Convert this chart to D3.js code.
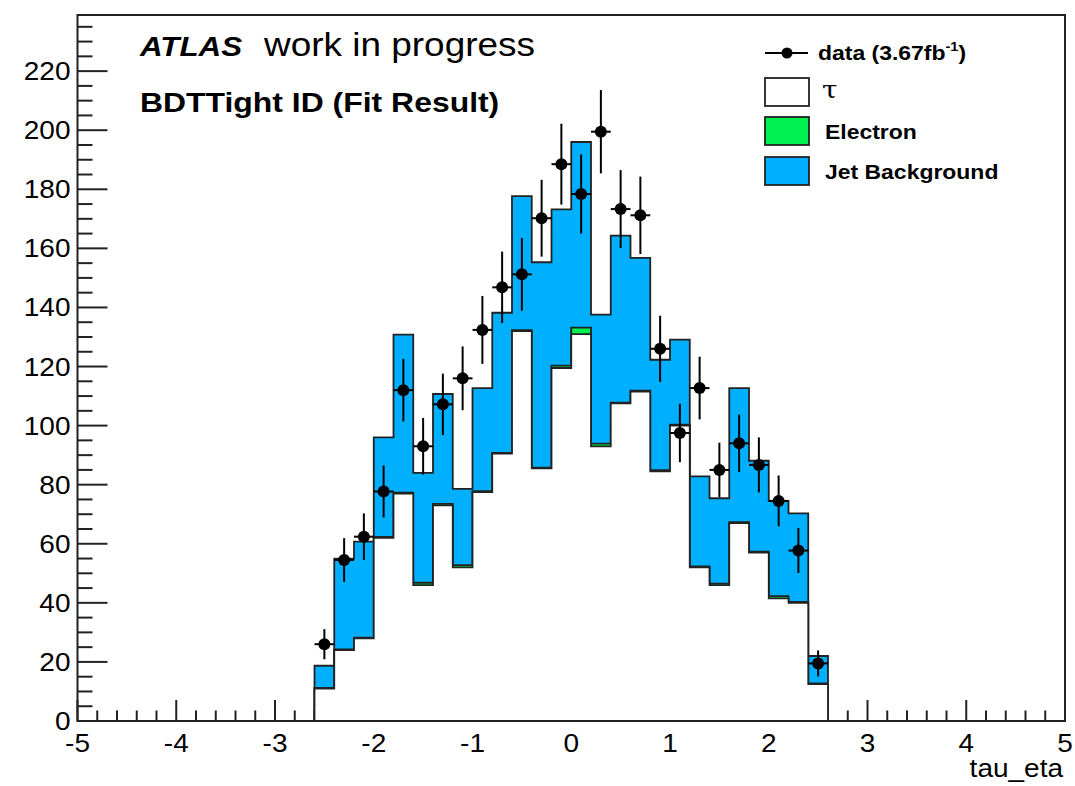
<!DOCTYPE html>
<html>
<head>
<meta charset="utf-8">
<script src="https://cdn.jsdelivr.net/npm/d3@7"></script>
<style>
  body { margin: 0; background: #fff; }
  svg { display: block; font-family: "Liberation Sans", Arial, sans-serif; }
</style>
</head>
<body>
<div id="chart"></div>
<script>
// Bin centres of tau_eta (bin width 0.2)
const binCenters = [-2.5, -2.3, -2.1, -1.9, -1.7, -1.5, -1.3, -1.1, -0.9, -0.7, -0.5, -0.3, -0.1,
                    0.1, 0.3, 0.5, 0.7, 0.9, 1.1, 1.3, 1.5, 1.7, 1.9, 2.1, 2.3, 2.5];

// Fit result components (stacked: tau at bottom, electron, jet background on top)
const tauCounts = [11, 24, 28, 62, 77, 46, 73, 52, 77.5, 90.5, 132, 85.5, 119.5,
                   131, 93, 107.5, 111.5, 84.5, 100, 52, 46, 67, 57, 41.5, 40, 12.5];
const electronCounts = [0.2, 0.2, 0.2, 0.3, 0.3, 0.8, 0.5, 0.8, 0.3, 0.3, 0.3, 0.3, 0.8,
                        2.2, 0.9, 0.3, 0.3, 0.4, 0.3, 0.3, 0.5, 0.3, 0.3, 0.8, 0.3, 0.2];
const jetCounts = [7.5, 30.8, 32.5, 33.7, 53.5, 37.2, 37.2, 25.8, 34.9, 47.4, 45.4, 69.5, 52.9,
                   62.8, 43.7, 56.5, 45, 37.4, 28.8, 30.5, 28.9, 45.4, 30.8, 32.2, 30, 9.3];

// Data points and their errors
const dataCounts = [26, 54.5, 62.4, 77.7, 112, 93, 107.2, 116, 132.4, 146.8, 151.2, 170.2, 188.5,
                    178.4, 199.5, 173.3, 171.2, 126, 97.5, 112.7, 85, 94, 86.7, 74.5, 57.7, 19.5];
const dataErrors = [5.1, 7.4, 7.9, 8.8, 10.6, 9.6, 10.4, 10.8, 11.5, 12.1, 12.3, 13.0, 13.7,
                    13.4, 14.1, 13.2, 13.1, 11.2, 9.9, 10.6, 9.2, 9.7, 9.3, 8.6, 7.6, 4.4];

// Axis ticks
const xTicks = [-5, -4, -3, -2, -1, 0, 1, 2, 3, 4, 5];
const yTicks = [0, 20, 40, 60, 80, 100, 120, 140, 160, 180, 200, 220];

const width = 1075, height = 786;
const binWidth = 0.2;
const SX = 1.12; // the original canvas text is a little wide
const lineColor = '#222';
const colors = { tau: '#ffffff', electron: '#00f050', jet: '#00b0ff' };

const svg = d3.select('#chart').append('svg')
  .attr('width', width)
  .attr('height', height);

svg.append('rect').attr('width', width).attr('height', height).attr('fill', '#fff');

const x = d3.scaleLinear().domain([-5, 5]).range([77.5, 1065]);
const y = d3.scaleLinear().domain([0, 239]).range([721, 15]);

// Helper: text with a small horizontal stretch
function label(sel, px, py, str, size, opts = {}) {
  return sel.append('text')
    .attr('transform', `translate(${px},${py}) scale(${SX},1)`)
    .attr('font-size', size)
    .attr('font-weight', opts.weight || 'normal')
    .attr('font-style', opts.style || 'normal')
    .attr('text-anchor', opts.anchor || 'start')
    .attr('font-family', opts.family || null)
    .attr('fill', '#000')
    .text(str);
}

// Tick marks (drawn first so that the histograms cover them)
const ticks = svg.append('g').attr('stroke', lineColor).attr('stroke-width', 2);

const xMinor = d3.range(-5, 5.001, binWidth).filter(v => Math.abs(v - Math.round(v)) > 1e-6);
ticks.selectAll('.xmaj').data(xTicks).enter().append('line')
  .attr('x1', d => x(d)).attr('x2', d => x(d))
  .attr('y1', y(0)).attr('y2', y(0) - 21);
ticks.selectAll('.xmin').data(xMinor).enter().append('line')
  .attr('x1', d => x(d)).attr('x2', d => x(d))
  .attr('y1', y(0)).attr('y2', y(0) - 10.5);

const yMinor = d3.range(0, 236, 5).filter(v => v % 20 !== 0);
ticks.selectAll('.ymaj').data(yTicks).enter().append('line')
  .attr('y1', d => y(d)).attr('y2', d => y(d))
  .attr('x1', x(-5)).attr('x2', x(-5) + 30);
ticks.selectAll('.ymin').data(yMinor).enter().append('line')
  .attr('y1', d => y(d)).attr('y2', d => y(d))
  .attr('x1', x(-5)).attr('x2', x(-5) + 15);

// Stack the fit components
const rows = binCenters.map((c, i) => ({
  c, tau: tauCounts[i], electron: electronCounts[i], jet: jetCounts[i]
}));
const stacked = d3.stack().keys(['tau', 'electron', 'jet'])(rows);

// Step outline for a histogram whose bin tops are given
function stepPath(tops) {
  const half = binWidth / 2;
  const pts = [[binCenters[0] - half, 0]];
  tops.forEach((v, i) => {
    pts.push([binCenters[i] - half, v]);
    pts.push([binCenters[i] + half, v]);
  });
  pts.push([binCenters[binCenters.length - 1] + half, 0]);
  return d3.line().x(d => x(d[0])).y(d => y(d[1]))(pts);
}

// ROOT draws the cumulative histograms from the top one down
const hists = svg.append('g');
stacked.slice().reverse().forEach(layer => {
  hists.append('path')
    .attr('d', stepPath(layer.map(d => d[1])))
    .attr('fill', colors[layer.key])
    .attr('stroke', lineColor)
    .attr('stroke-width', 1.8)
    .attr('stroke-linejoin', 'miter');
});

// Frame
svg.append('rect')
  .attr('x', x(-5)).attr('y', y(239))
  .attr('width', x(5) - x(-5)).attr('height', y(0) - y(239))
  .attr('fill', 'none')
  .attr('stroke', lineColor)
  .attr('stroke-width', 2);

// Tick labels
const tickLabels = svg.append('g');
xTicks.forEach(t => label(tickLabels, x(t), 752, String(t), 25, { anchor: 'middle' }));
yTicks.forEach(t => label(tickLabels, 70.5, y(t) + 9, String(t), 25, { anchor: 'end' }));
label(svg, 1063, 777, 'tau_eta', 25, { anchor: 'end' });

// Data points with error bars
const pts = svg.append('g');
binCenters.forEach((c, i) => {
  const v = dataCounts[i], e = dataErrors[i];
  pts.append('line')
    .attr('x1', x(c)).attr('x2', x(c))
    .attr('y1', y(v - e)).attr('y2', y(v + e))
    .attr('stroke', '#000').attr('stroke-width', 2);
  pts.append('line')
    .attr('x1', x(c - binWidth / 2)).attr('x2', x(c + binWidth / 2))
    .attr('y1', y(v)).attr('y2', y(v))
    .attr('stroke', '#000').attr('stroke-width', 2);
  pts.append('circle')
    .attr('cx', x(c)).attr('cy', y(v)).attr('r', 6)
    .attr('fill', '#000');
});

// Titles
label(svg, 140, 56, 'ATLAS', 28, { weight: 'bold', style: 'italic' });
label(svg, 264, 56, 'work in progress', 33);
label(svg, 140, 112, 'BDTTight ID (Fit Result)', 28.5, { weight: 'bold' });

// Legend
const legend = svg.append('g');
legend.append('line')
  .attr('x1', 765).attr('x2', 808).attr('y1', 53).attr('y2', 53)
  .attr('stroke', '#000').attr('stroke-width', 2);
legend.append('circle').attr('cx', 787).attr('cy', 53).attr('r', 5.5).attr('fill', '#000');
const dataText = label(legend, 818, 60, 'data (3.67fb', 20.5, { weight: 'bold' });
dataText.append('tspan').attr('font-size', 13).attr('dy', -9).text('-1');
dataText.append('tspan').attr('dy', 9).text(')');

const legendItems = [
  { key: 'tau', text: '\u03c4', y: 78 },
  { key: 'electron', text: 'Electron', y: 117 },
  { key: 'jet', text: 'Jet Background', y: 157 }
];
legendItems.forEach(item => {
  legend.append('rect')
    .attr('x', 765).attr('y', item.y).attr('width', 44).attr('height', 28)
    .attr('fill', colors[item.key])
    .attr('stroke', lineColor).attr('stroke-width', 1.8);
  if (item.key === 'tau') {
    label(legend, 822, item.y + 20, item.text, 25, { family: '"DejaVu Serif", "Liberation Serif", serif' });
  } else {
    label(legend, 825, item.y + 22, item.text, 20.5, { weight: 'bold' });
  }
});
</script>
</body>
</html>
